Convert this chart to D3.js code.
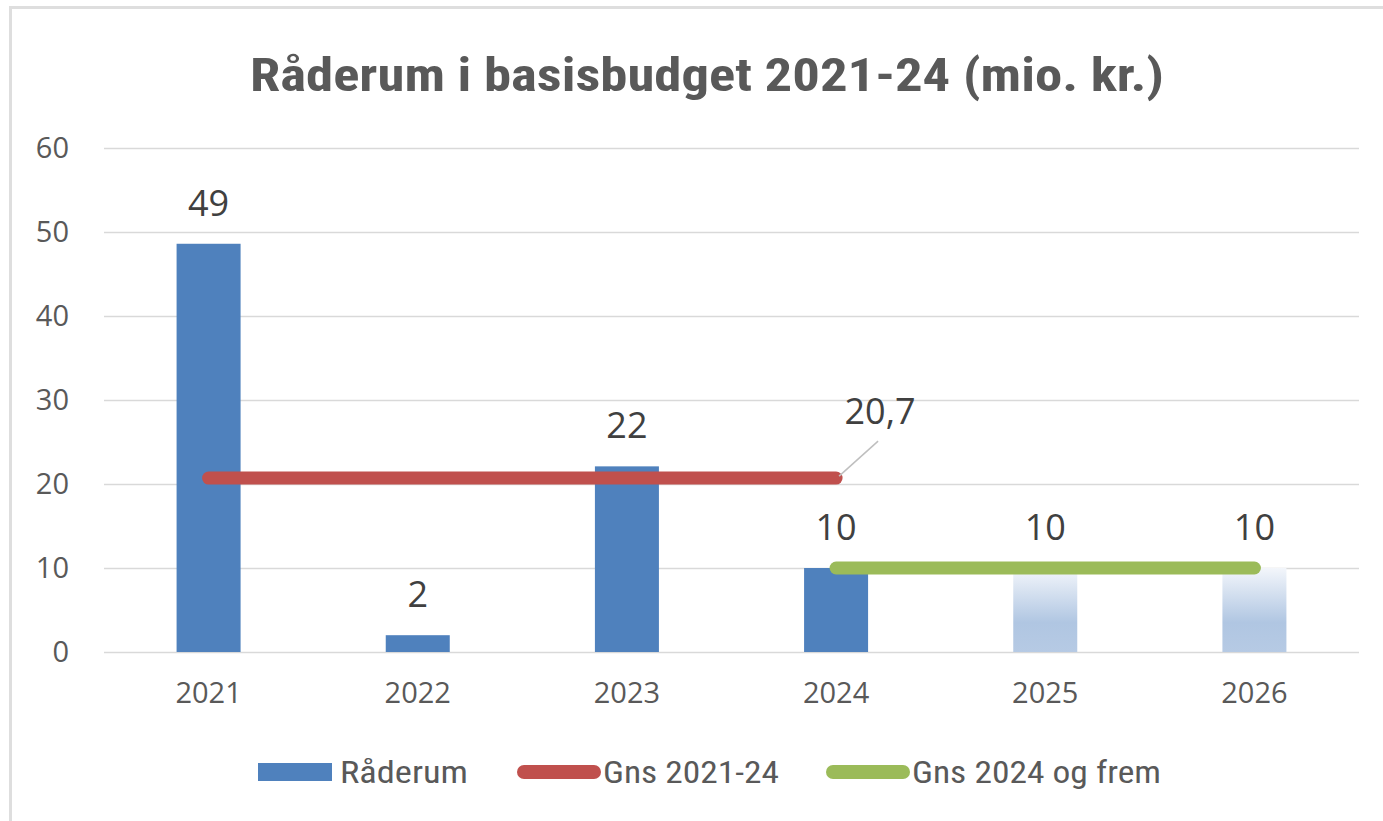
<!DOCTYPE html>
<html>
<head>
<meta charset="utf-8">
<script src="https://cdn.jsdelivr.net/npm/d3@7"></script>
<style>
  body { margin: 0; background: #fff; }
  svg { display: block; }
</style>
</head>
<body>
<div id="chart"></div>
<script>
// chart data
var years = ["2021", "2022", "2023", "2024", "2025", "2026"];
var raaderum = [48.6, 2, 22.1, 10, 10, 10];
var barLabels = ["49", "2", "22", "10", "10", "10"];
var projected = [false, false, false, false, true, true];
var gns2124 = [20.7, 20.7, 20.7, 20.7, null, null];
var gns2024 = [null, null, null, 10, 10, 10];
var yTicks = [0, 10, 20, 30, 40, 50, 60];
var legendNames = ["Råderum", "Gns 2021-24", "Gns 2024 og frem"];

var W = 1383, H = 821;
var margin = {top: 148, right: 24, bottom: 169, left: 104};

var narrow = "'Liberation Sans Narrow', 'Roboto Condensed', 'Arial Narrow', sans-serif";
var plain = "'Open Sans', 'Noto Sans', sans-serif";

var svg = d3.select("#chart").append("svg")
    .attr("width", W)
    .attr("height", H);

// frame lines (top and left edge of the chart box)
svg.append("rect").attr("x", 9).attr("y", 6).attr("width", W - 9).attr("height", 3).attr("fill", "#dedede");
svg.append("rect").attr("x", 9).attr("y", 6).attr("width", 3).attr("height", H - 6).attr("fill", "#dedede");

// gradient for projected bars
var grad = svg.append("defs").append("linearGradient")
    .attr("id", "proj").attr("x1", 0).attr("y1", 0).attr("x2", 0).attr("y2", 1);
grad.append("stop").attr("offset", "0%").attr("stop-color", "#f3f6fb");
grad.append("stop").attr("offset", "65%").attr("stop-color", "#b0c6e2");
grad.append("stop").attr("offset", "100%").attr("stop-color", "#b6cae4");

// title
svg.append("text")
    .attr("x", 707).attr("y", 91)
    .attr("text-anchor", "middle")
    .attr("textLength", 914)
    .attr("lengthAdjust", "spacingAndGlyphs")
    .style("font-family", narrow)
    .style("font-weight", "bold")
    .style("font-size", "46px")
    .style("fill", "#595959")
    .text("Råderum i basisbudget 2021-24 (mio. kr.)");

var g = svg.append("g")
    .attr("transform", "translate(" + margin.left + "," + margin.top + ")");
var width = W - margin.left - margin.right,
    height = H - margin.top - margin.bottom;

// scales
var x = d3.scaleBand().domain(years).range([0, width]).padding(0);
var y = d3.scaleLinear().domain([0, 60]).range([height, 0]);
var barW = x.bandwidth() * 0.306;

// gridlines
g.append("g")
    .call(d3.axisLeft(y).tickValues(yTicks).tickSize(-width).tickFormat(""))
    .call(s => s.select(".domain").remove())
    .call(s => s.selectAll("line").attr("stroke", "#d9d9d9").attr("stroke-width", 1.5));

// y axis labels
g.append("g")
    .attr("transform", "translate(-32,0)")
    .call(d3.axisLeft(y).tickValues(yTicks).tickSize(0))
    .call(s => s.select(".domain").remove())
    .call(s => s.selectAll("text")
        .style("font-family", plain).style("font-size", "29px").style("fill", "#595959"));

// x axis labels
g.append("g")
    .attr("transform", "translate(0," + height + ")")
    .call(d3.axisBottom(x).tickSize(0).tickPadding(30))
    .call(s => s.select(".domain").remove())
    .call(s => s.selectAll("text")
        .style("font-family", plain).style("font-size", "29px").style("fill", "#595959"));

// bars
g.selectAll(".bar")
    .data(years)
    .enter().append("rect")
    .attr("class", "bar")
    .attr("x", (d) => x(d) + (x.bandwidth() - barW) / 2)
    .attr("width", barW)
    .attr("y", (d, i) => y(raaderum[i]))
    .attr("height", (d, i) => height - y(raaderum[i]))
    .attr("fill", (d, i) => projected[i] ? "url(#proj)" : "#4f81bd");

// average lines
var avgLine = d3.line()
    .defined((d) => d.v != null)
    .x((d) => x(d.year) + x.bandwidth() / 2)
    .y((d) => y(d.v));

g.append("path")
    .datum(years.map((yr, i) => ({year: yr, v: gns2124[i]})))
    .attr("d", avgLine)
    .attr("fill", "none").attr("stroke", "#c0504d")
    .attr("stroke-width", 13).attr("stroke-linecap", "round");

g.append("path")
    .datum(years.map((yr, i) => ({year: yr, v: gns2024[i]})))
    .attr("d", avgLine)
    .attr("fill", "none").attr("stroke", "#9bbb59")
    .attr("stroke-width", 13).attr("stroke-linecap", "round");

// bar value labels
g.selectAll(".lbl")
    .data(years)
    .enter().append("text")
    .attr("class", "lbl")
    .attr("x", (d) => x(d) + x.bandwidth() / 2)
    .attr("y", (d, i) => y(raaderum[i]) - 28)
    .attr("text-anchor", "middle")
    .style("font-family", plain).style("font-size", "36px").style("fill", "#404040")
    .text((d, i) => barLabels[i]);

// average label with leader line
var lastIdx = 3;
var ex = x(years[lastIdx]) + x.bandwidth() / 2,
    ey = y(gns2124[lastIdx]);
g.append("line")
    .attr("x1", ex + 3).attr("y1", ey - 2)
    .attr("x2", ex + 42).attr("y2", ey - 37)
    .attr("stroke", "#bfbfbf").attr("stroke-width", 1.5);
g.append("text")
    .attr("x", ex + 44).attr("y", ey - 54)
    .attr("text-anchor", "middle")
    .style("font-family", plain).style("font-size", "36px").style("fill", "#404040")
    .text(d3.format(".1f")(gns2124[lastIdx]).replace(".", ","));

// legend
var legend = svg.append("g").attr("transform", "translate(0,772)");
var legItems = [
  {name: legendNames[0], x: 258, type: "rect", color: "#4f81bd", tw: 128},
  {name: legendNames[1], x: 517, type: "line", color: "#c0504d", tw: 176},
  {name: legendNames[2], x: 826, type: "line", color: "#9bbb59", tw: 249}
];
legItems.forEach(function(it) {
  if (it.type === "rect") {
    legend.append("rect").attr("x", it.x).attr("y", -9).attr("width", 74).attr("height", 18).attr("fill", it.color);
  } else {
    legend.append("line").attr("x1", it.x + 7).attr("x2", it.x + 77).attr("y1", 0).attr("y2", 0)
      .attr("stroke", it.color).attr("stroke-width", 14).attr("stroke-linecap", "round");
  }
  legend.append("text")
    .attr("x", it.x + (it.type === "rect" ? 82 : 86)).attr("y", 11)
    .attr("textLength", it.tw).attr("lengthAdjust", "spacingAndGlyphs")
    .style("font-family", narrow).style("font-size", "32px").style("fill", "#595959")
    .text(it.name);
});
</script>
</body>
</html>
